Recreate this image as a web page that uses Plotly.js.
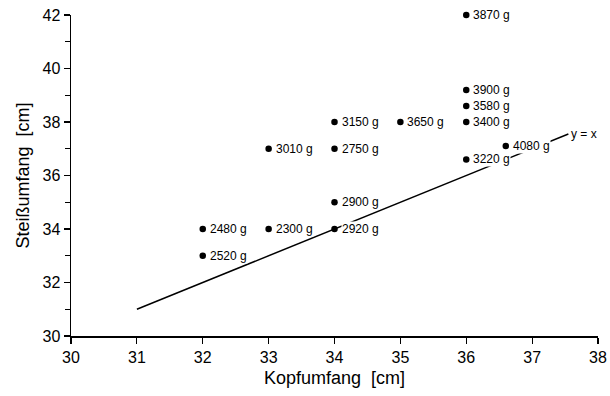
<!DOCTYPE html>
<html>
<head>
<meta charset="utf-8">
<script src="https://cdn.plot.ly/plotly-3.0.1.min.js"></script>
<style>html,body{margin:0;padding:0;background:#fff;}#chart{width:610px;height:396px;}</style>
</head>
<body>
<div id="chart"></div>
<script>
// Data
const kopfumfang = [32, 32, 33, 33, 34, 34, 34, 34, 35, 36, 36, 36, 36, 36, 36.6];
const steissumfang = [34, 33, 34, 37, 38, 37, 35, 34, 38, 42, 39.2, 38.6, 38, 36.6, 37.1];
const gewicht = ["2480 g", "2520 g", "2300 g", "3010 g", "3150 g", "2750 g", "2900 g", "2920 g",
                 "3650 g", "3870 g", "3900 g", "3580 g", "3400 g", "3220 g", "4080 g"];
const refLineX = [31, 37.55];
const refLineY = [31, 37.55];
const refLabel = "y = x";
const xTicks = [30, 31, 32, 33, 34, 35, 36, 37, 38];
const yTicks = [30, 32, 34, 36, 38, 40, 42];

const font = "Liberation Sans, Arial, sans-serif";

const traces = [
  {x: refLineX, y: refLineY, mode: "lines", type: "scatter",
   line: {color: "#000", width: 1.5}, hoverinfo: "skip", cliponaxis: false},
  {x: kopfumfang, y: steissumfang, mode: "markers", type: "scatter",
   marker: {color: "#000", size: 6.5}, cliponaxis: false}
];

const annotations = kopfumfang.map((xv, i) => ({
  x: xv, y: steissumfang[i], text: gewicht[i], showarrow: false,
  xanchor: "left", yanchor: "middle", xshift: 6, bgcolor: "#fff", borderpad: 0,
  font: {family: font, size: 12, color: "#000"}
}));
annotations.push({
  x: refLineX[1], y: refLineY[1], text: refLabel, showarrow: false,
  xanchor: "left", yanchor: "middle", xshift: 2, bgcolor: "#fff", borderpad: 0,
  font: {family: font, size: 12, color: "#000"}
});

const layout = {
  width: 610, height: 396,
  margin: {l: 71, r: 12, t: 15, b: 60},
  paper_bgcolor: "#fff", plot_bgcolor: "#fff",
  showlegend: false,
  font: {family: font, color: "#000"},
  xaxis: {
    range: [30, 38], tickvals: xTicks, ticktext: xTicks.map(String),
    showgrid: false, zeroline: false, showline: true, linecolor: "#000", linewidth: 1.5,
    ticks: "outside", ticklen: 6, tickwidth: 1.2, tickcolor: "#000",
    tickfont: {family: font, size: 16, color: "#000"},
    title: {text: "Kopfumfang\u00a0 [cm]", font: {family: font, size: 18, color: "#000"}, standoff: 6}
  },
  yaxis: {
    range: [30, 42], tickvals: yTicks, ticktext: yTicks.map(String),
    showgrid: false, zeroline: false, showline: true, linecolor: "#000", linewidth: 1.5,
    ticks: "outside", ticklen: 6, tickwidth: 1.2, tickcolor: "#000",
    tickfont: {family: font, size: 16, color: "#000"},
    minor: {dtick: 1, tick0: 30, ticks: "outside", ticklen: 5, tickwidth: 1.2, tickcolor: "#000", showgrid: false},
    title: {text: "Steißumfang\u00a0 [cm]", font: {family: font, size: 18, color: "#000"}, standoff: 8}
  },
  annotations: annotations
};

Plotly.newPlot("chart", traces, layout, {displayModeBar: false, staticPlot: true});
</script>
</body>
</html>
